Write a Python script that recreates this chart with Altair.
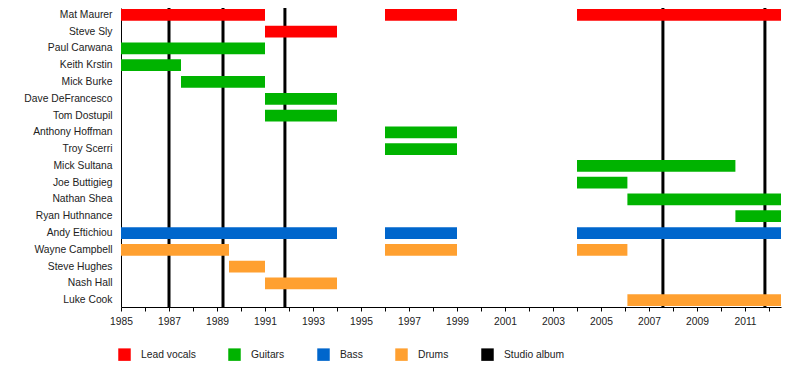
import altair as alt
import pandas as pd

members = ["Mat Maurer", "Steve Sly", "Paul Carwana", "Keith Krstin", "Mick Burke",
           "Dave DeFrancesco", "Tom Dostupil", "Anthony Hoffman", "Troy Scerri",
           "Mick Sultana", "Joe Buttigieg", "Nathan Shea", "Ryan Huthnance",
           "Andy Eftichiou", "Wayne Campbell", "Steve Hughes", "Nash Hall", "Luke Cook"]

roles = ["Lead vocals", "Guitars", "Bass", "Drums", "Studio album"]
role_colors = ["#FF0000", "#00B300", "#0066CC", "#FFA030", "#000000"]

span_member = ["Mat Maurer", "Mat Maurer", "Mat Maurer", "Steve Sly",
               "Paul Carwana", "Keith Krstin", "Mick Burke", "Dave DeFrancesco",
               "Tom Dostupil", "Anthony Hoffman", "Troy Scerri", "Mick Sultana",
               "Joe Buttigieg", "Nathan Shea", "Ryan Huthnance",
               "Andy Eftichiou", "Andy Eftichiou", "Andy Eftichiou",
               "Wayne Campbell", "Wayne Campbell", "Wayne Campbell",
               "Steve Hughes", "Nash Hall", "Luke Cook"]
span_role = ["Lead vocals", "Lead vocals", "Lead vocals", "Lead vocals",
             "Guitars", "Guitars", "Guitars", "Guitars",
             "Guitars", "Guitars", "Guitars", "Guitars",
             "Guitars", "Guitars", "Guitars",
             "Bass", "Bass", "Bass",
             "Drums", "Drums", "Drums",
             "Drums", "Drums", "Drums"]
span_start = [1985, 1996, 2004, 1991,
              1985, 1985, 1987.5, 1991,
              1991, 1996, 1996, 2004,
              2004, 2006.1, 2010.6,
              1985, 1996, 2004,
              1985, 1996, 2004,
              1989.5, 1991, 2006.1]
span_end = [1991, 1999, 2012.5, 1994,
            1991, 1987.5, 1991, 1994,
            1994, 1999, 1999, 2010.6,
            2006.1, 2012.5, 2012.5,
            1994, 1999, 2012.5,
            1989.5, 1999, 2006.1,
            1991, 1994, 2012.5]

album_years = [1987.0, 1989.25, 1991.83, 2007.58, 2011.83]

year_ticks = list(range(1985, 2013))

spans = pd.DataFrame({"member": span_member, "role": span_role,
                      "start": span_start, "end": span_end})
albums = pd.DataFrame({"year": album_years})

FONT = "Liberation Sans"
TXT = "#222222"

xscale = alt.Scale(domain=[1985, 2012.5], nice=False, zero=False)

xaxis = alt.Axis(values=year_ticks, labelExpr="datum.value % 2 == 1 ? datum.value : ''",
                 format="d", title=None, grid=False, domainColor="black", domainWidth=1,
                 tickColor="black", tickSize=4, labelPadding=5, labelFontSize=10.3,
                 labelColor=TXT, labelFont=FONT, labelFlush=False, labelOverlap=False)

rules = alt.Chart(albums).mark_rule(color="black", strokeWidth=3).encode(
    x=alt.X("year:Q", scale=xscale, axis=xaxis)
)

bars = alt.Chart(spans).mark_bar(opacity=1).encode(
    x=alt.X("start:Q", scale=xscale, axis=xaxis),
    x2="end:Q",
    y=alt.Y("member:N", sort=members,
            scale=alt.Scale(domain=members, paddingInner=0.3, paddingOuter=0.06),
            axis=alt.Axis(title=None, ticks=False, grid=False, domainColor="black",
                          domainWidth=1, labelPadding=9, labelFontSize=10.3,
                          labelColor=TXT, labelFont=FONT)),
    color=alt.Color("role:N", scale=alt.Scale(domain=roles, range=role_colors),
                    legend=alt.Legend(title=None, orient="none", legendX=-3, legendY=340,
                                      direction="horizontal", symbolType="square",
                                      symbolSize=156, symbolStrokeWidth=0,
                                      symbolOpacity=1,
                                      labelOffset=10, columnPadding=32, padding=0,
                                      labelFontSize=10.3, labelFont=FONT,
                                      labelColor=TXT)),
)

chart = alt.layer(rules, bars).properties(
    width=660, height=299,
    autosize=alt.AutoSizeParams(type="none"),
    padding={"left": 113, "top": 0, "right": 11, "bottom": 70},
).configure(font=FONT).configure_view(stroke=None)

chart.save("out.html", embed_options={"renderer": "svg", "actions": False})
